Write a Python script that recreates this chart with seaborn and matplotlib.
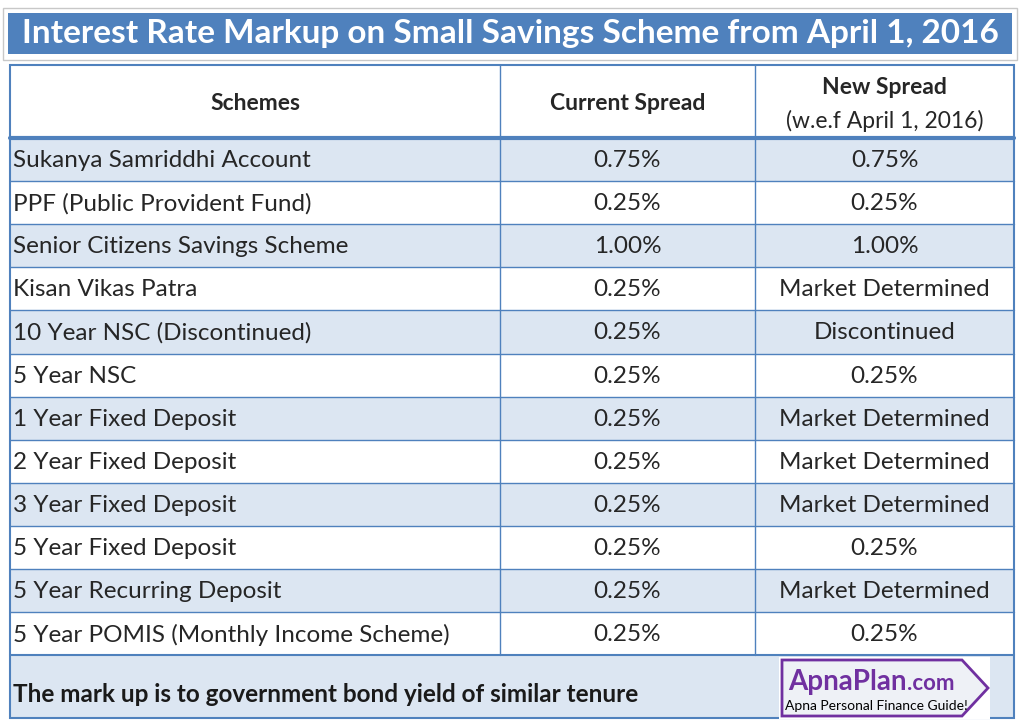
import matplotlib.pyplot as plt
import matplotlib.patches as patches
import seaborn as sns

sns.set_theme(style="white", font="Lato")

title = "Interest Rate Markup on Small Savings Scheme from April 1, 2016"
headers = ["Schemes", "Current Spread", "New Spread"]
header_sub = "(w.e.f April 1, 2016)"
schemes = ["Sukanya Samriddhi Account", "PPF (Public Provident Fund)",
           "Senior Citizens Savings Scheme", "Kisan Vikas Patra",
           "10 Year NSC (Discontinued)", "5 Year NSC", "1 Year Fixed Deposit",
           "2 Year Fixed Deposit", "3 Year Fixed Deposit", "5 Year Fixed Deposit",
           "5 Year Recurring Deposit", "5 Year POMIS (Monthly Income Scheme)"]
current_spread = ["0.75%", "0.25%", "1.00%", "0.25%", "0.25%", "0.25%",
                  "0.25%", "0.25%", "0.25%", "0.25%", "0.25%", "0.25%"]
new_spread = ["0.75%", "0.25%", "1.00%", "Market Determined", "Discontinued",
              "0.25%", "Market Determined", "Market Determined",
              "Market Determined", "0.25%", "Market Determined", "0.25%"]
footer = "The mark up is to government bond yield of similar tenure"

BLUE = "#4f81bd"
STRIPE = "#dce6f2"
TXT = "#262626"

fig = plt.figure(figsize=(10.24, 7.24), dpi=100)
ax = fig.add_axes([0, 0, 1, 1])
ax.set_xlim(0, 1024)
ax.set_ylim(724, 0)
ax.axis("off")

# title banner
ax.add_patch(patches.Rectangle((3, 8), 1014, 52, fc="white", ec="#c8c8c8", lw=1))
ax.add_patch(patches.Rectangle((8, 13), 1004, 41, fc=BLUE, ec="none"))
ax.text(510, 34, title, color="white", fontsize=24, fontweight="bold",
        ha="center", va="center")

xl, x1, x2, xr = 10, 500, 755, 1014
ytop, yhead, rh = 65, 138, 43.1
ybot = yhead + rh * len(schemes)
fs = 17.5

# header
ax.text((xl + x1) / 2, 103, headers[0], fontsize=16.5, fontweight="bold", color=TXT, ha="center", va="center")
ax.text((x1 + x2) / 2, 103, headers[1], fontsize=16.5, fontweight="bold", color=TXT, ha="center", va="center")
ax.text((x2 + xr) / 2, 88, headers[2], fontsize=16.5, fontweight="bold", color=TXT, ha="center", va="center")
ax.text((x2 + xr) / 2, 121, header_sub, fontsize=16.5, color=TXT, ha="center", va="center")

for i, (s, c, n) in enumerate(zip(schemes, current_spread, new_spread)):
    y = yhead + i * rh
    ax.add_patch(patches.Rectangle((xl, y), xr - xl, rh,
                                   fc=STRIPE if i % 2 == 0 else "white", ec="none"))
    ax.plot([xl, xr], [y, y], color=BLUE, lw=1)
    yc = y + rh / 2 + 1
    ax.text(xl + 3, yc, s, fontsize=fs, color=TXT, ha="left", va="center")
    ax.text((x1 + x2) / 2, yc, c, fontsize=fs, color=TXT, ha="center", va="center")
    ax.text((x2 + xr) / 2, yc, n, fontsize=fs, color=TXT, ha="center", va="center")

ax.plot([xl, xr], [yhead, yhead], color=BLUE, lw=3)
# footer
ax.add_patch(patches.Rectangle((xl, ybot), xr - xl, 718 - ybot, fc=STRIPE, ec="none"))
ax.text(xl + 3, 694, footer, fontsize=17.5, fontweight="bold", color="#1a1a1a", ha="left", va="center")
ax.plot([xl, xr], [ybot, ybot], color=BLUE, lw=1.5)
for x in (x1, x2):
    ax.plot([x, x], [ytop, ybot], color=BLUE, lw=1)
ax.add_patch(patches.Rectangle((xl, ytop), xr - xl, 718 - ytop, fc="none", ec=BLUE, lw=1.5))

# logo
ax.add_patch(patches.Rectangle((779, 657), 211, 62, fc="white", ec="none"))
ax.add_patch(patches.Polygon([(782, 660), (962, 660), (988, 688), (962, 716), (782, 716)],
                             closed=True, fc="#eef1f6", ec="#7030a0", lw=2))
ax.text(788, 682, "ApnaPlan", fontsize=20, fontweight="bold", color="#7030a0", ha="left", va="center")
ax.text(907, 684, ".com", fontsize=16, fontweight="bold", color="#7030a0", ha="left", va="center")
ax.text(876, 706, "Apna Personal Finance Guide!", fontsize=10, color="black", ha="center", va="center")

fig.savefig("out.png", dpi=100)
